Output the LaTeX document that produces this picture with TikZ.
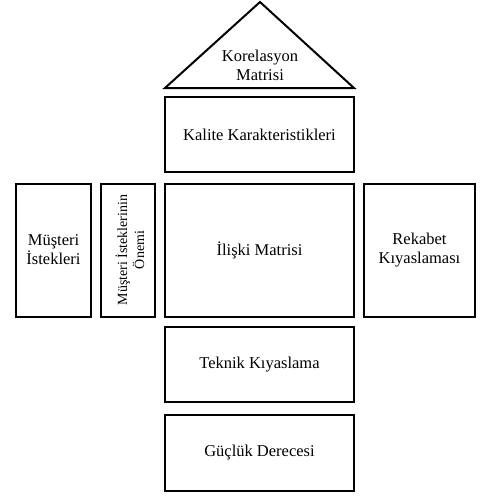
\documentclass[tikz,border=0pt]{standalone}
\usepackage{fontspec}
\setmainfont{Liberation Serif}
\begin{document}
\begin{tikzpicture}[x=1pt,y=-1pt,
  box/.style={draw,line width=2pt,inner sep=0pt},
  lbl/.style={align=center,font=\fontsize{16.5}{19}\selectfont}]
\useasboundingbox (0,0) rectangle (489,504);
\draw[line width=2pt,line join=miter] (165,88) -- (260,2) -- (354,88) -- cycle;
\node[lbl] (kor) at (260,65) {Korelasyon\\Matrisi};
\draw[box] (165,97) rectangle (354,172);
\node[lbl] (kal) at (259.5,134.5) {Kalite Karakteristikleri};
\draw[box] (16,184) rectangle (91,317);
\node[lbl] (mus) at (53.5,250) {Müşteri\\İstekleri};
\draw[box] (101,184) rectangle (155,317);
\node[lbl,rotate=90,font=\fontsize{14}{17}\selectfont] (onem) at (130,250) {Müşteri İsteklerinin\\Önemi};
\draw[box] (165,184) rectangle (354,317);
\node[lbl] (ili) at (259.5,250) {İlişki Matrisi};
\draw[box] (364,184) rectangle (475,317);
\node[lbl] (rek) at (419.5,250) {Rekabet\\Kıyaslaması};
\draw[box] (165,327) rectangle (354,402);
\node[lbl] (tek) at (259.5,364.5) {Teknik Kıyaslama};
\draw[box] (165,415) rectangle (354,491);
\node[lbl] (guc) at (259.5,453) {Güçlük Derecesi};
\end{tikzpicture}
\end{document}
